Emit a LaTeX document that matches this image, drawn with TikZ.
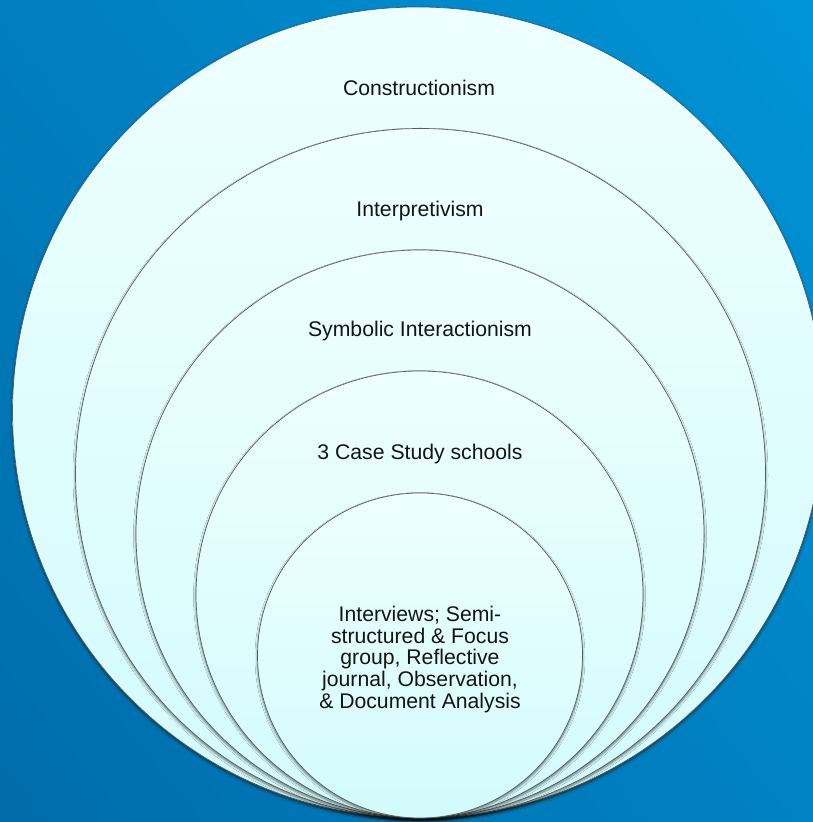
\documentclass[tikz,border=0pt]{standalone}
\usepackage{fontspec}
\setmainfont{Liberation Sans}
\usetikzlibrary{shadows.blur,shadings}
\definecolor{bgLL}{RGB}{0,108,170}
\definecolor{bgLR}{RGB}{0,130,196}
\definecolor{bgUL}{RGB}{0,126,190}
\definecolor{bgUR}{RGB}{0,148,214}
\definecolor{ringTop}{RGB}{238,255,255}
\definecolor{ringBot}{RGB}{210,251,252}
\definecolor{ringLine}{RGB}{90,90,90}
\definecolor{txt}{RGB}{20,20,20}
\tikzset{
  ring/.style={circle, inner sep=0pt, draw=ringLine, line width=0.7pt,
    top color=ringTop, bottom color=ringBot,
    blur shadow={shadow xshift=0pt, shadow yshift=-2pt, shadow blur radius=2.5pt, shadow blur steps=6, shadow opacity=55}},
  lbl/.style={inner sep=0pt, text=txt, font=\fontsize{21.2}{21.6}\selectfont},
}
\begin{document}
\begin{tikzpicture}[x=1pt,y=1pt]
\useasboundingbox (0,0) rectangle (813,822);
\shade[lower left=bgLL, lower right=bgLR, upper left=bgUL, upper right=bgUR] (0,0) rectangle (813,822);
\node[ring, minimum size=811pt] (c1) at (418,409.5) {};
\node[ring, minimum size=690pt] (c2) at (420.5,348.5) {};
\node[ring, minimum size=568pt] (c3) at (420,288) {};
\node[ring, minimum size=447pt] (c4) at (419.5,227.5) {};
\node[ring, minimum size=325pt] (c5) at (420,166.5) {};
\node[lbl, anchor=base] (t1) at (419,726) {Constructionism};
\node[lbl, anchor=base] (t2) at (420,605.3) {Interpretivism};
\node[lbl, anchor=base] (t3) at (420,485.3) {Symbolic Interactionism};
\node[lbl, anchor=base] (t4) at (420,362.7) {3 Case Study schools};
\node[lbl, align=center, anchor=center] (t5) at (420,162.5) {Interviews; Semi-\\structured \& Focus\\group, Reflective\\journal, Observation,\\\& Document Analysis};
\end{tikzpicture}
\end{document}
